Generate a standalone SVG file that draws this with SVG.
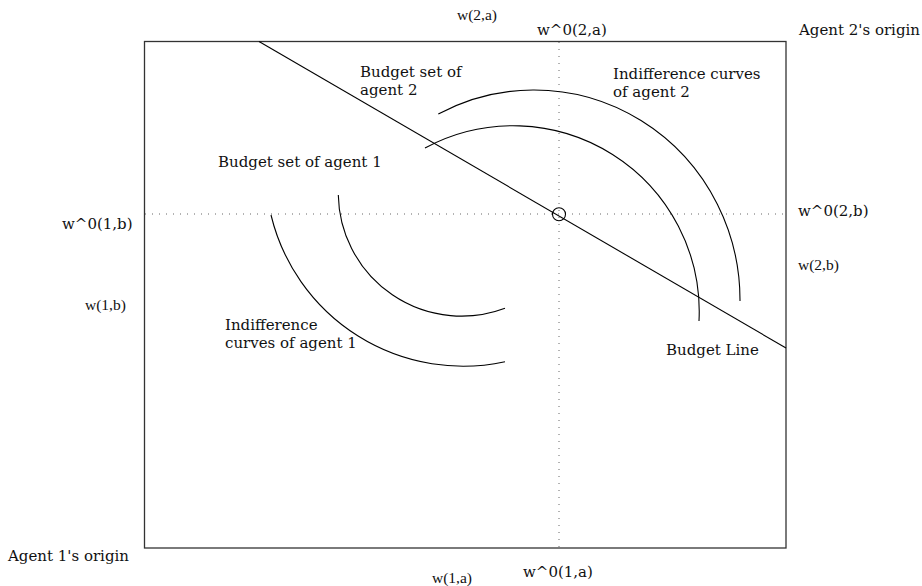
<svg xmlns="http://www.w3.org/2000/svg" width="922" height="586" viewBox="0 0 922 586">
<style>
  .lbl { font-family: "DejaVu Serif", "Liberation Serif", serif; font-size: 15px; fill: #111; }
  .w { font-family: "Liberation Serif", "Times New Roman", serif; font-size: 15.5px; fill: #111; }
  .curve { fill: none; stroke: #000; stroke-width: 1.1; }
  .dot { fill: none; stroke: #666; stroke-width: 1; stroke-dasharray: 1 6; }
</style>
<rect width="922" height="586" fill="#fff"/>
<g id="frame">
  <rect x="144.5" y="41.5" width="641.5" height="506.5" fill="none" stroke="#333" stroke-width="1.3"/>
</g>
<g id="endowment-lines">
  <line class="dot" x1="559" y1="42" x2="559" y2="548"/>
  <line class="dot" x1="145" y1="214" x2="786" y2="214"/>
  <circle cx="559" cy="214.3" r="6.5" fill="none" stroke="#000" stroke-width="1.1"/>
</g>
<g id="budget-line">
  <line class="curve" x1="259" y1="41.5" x2="786" y2="348"/>
</g>
<g id="indifference-agent1">
  <path class="curve" d="M338.3,195 A123.4,123.4 0 0 0 505,308.3"/>
  <path class="curve" d="M271,215 A197.5,197.5 0 0 0 505,361.7"/>
</g>
<g id="indifference-agent2">
  <path class="curve" d="M425,148 A186,186 0 0 1 699,321"/>
  <path class="curve" d="M438.3,114 A206,210 0 0 1 740,301"/>
</g>
<g id="labels">
  <text class="w" x="457" y="20">w(2,a)</text>
  <text class="lbl" x="537" y="35">w^0(2,a)</text>
  <text class="lbl" x="799" y="35">Agent 2's origin</text>
  <text class="lbl" x="360" y="77">Budget set of</text>
  <text class="lbl" x="360" y="95">agent 2</text>
  <text class="lbl" x="613" y="79">Indifference curves</text>
  <text class="lbl" x="613" y="97">of agent 2</text>
  <text class="lbl" x="218" y="167">Budget set of agent 1</text>
  <text class="lbl" x="62" y="229">w^0(1,b)</text>
  <text class="lbl" x="798" y="216">w^0(2,b)</text>
  <text class="w" x="798" y="270">w(2,b)</text>
  <text class="w" x="85" y="310">w(1,b)</text>
  <text class="lbl" x="225" y="330">Indifference</text>
  <text class="lbl" x="225" y="348">curves of agent 1</text>
  <text class="lbl" x="666" y="355">Budget Line</text>
  <text class="lbl" x="8" y="561">Agent 1's origin</text>
  <text class="w" x="432" y="583">w(1,a)</text>
  <text class="lbl" x="523" y="577">w^0(1,a)</text>
</g>
</svg>
